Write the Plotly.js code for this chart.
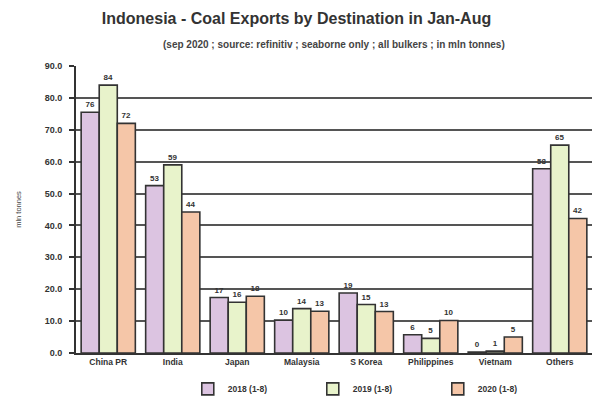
<!DOCTYPE html>
<html><head><meta charset="utf-8">
<script src="https://cdn.plot.ly/plotly-3.0.1.min.js"></script>
<style>html,body{margin:0;padding:0;background:#fff;}</style>
</head><body>
<div id="chart" style="width:593px;height:414px;"></div>
<script>
const categories = ["China PR","India","Japan","Malaysia","S Korea","Philippines","Vietnam","Others"];
const y2018 = [75.5, 52.5, 17.4, 10.3, 18.8, 5.7, 0.3, 57.8];
const y2019 = [84.0, 59.0, 15.9, 13.9, 15.2, 4.6, 0.6, 65.2];
const y2020 = [72.0, 44.2, 17.8, 13.1, 13.0, 10.2, 5.0, 42.2];
const seriesNames = ["2018 (1-8)","2019 (1-8)","2020 (1-8)"];
const yTicks = [0,10,20,30,40,50,60,70,80,90];

const fills = ["#dcc4e1","#e8f3cb","#f5c6a8"];
const font = "Liberation Sans, Arial, sans-serif";

const traces = [y2018, y2019, y2020].map((vals, i) => ({
  type: "bar",
  name: seriesNames[i],
  x: categories,
  y: vals,
  marker: {color: fills[i], line: {color: "#333", width: 1.6}},
  texttemplate: "%{y:.0f}",
  textposition: "outside",
  cliponaxis: false,
  textfont: {family: font, size: 8, color: "#333", weight: "bold"},
  hoverinfo: "skip"
}));

const layout = {
  width: 593, height: 414,
  margin: {l: 76, r: 1, t: 66, b: 61},
  paper_bgcolor: "#fff", plot_bgcolor: "#fff",
  barmode: "group",
  bargap: 0.16, bargroupgap: 0,
  font: {family: font, color: "#333"},
  title: {
    text: "<b>Indonesia - Coal Exports by Destination in Jan-Aug</b>",
    font: {family: font, size: 16, color: "#333"},
    x: 0.5, xanchor: "center", y: 0.955, yanchor: "middle"
  },
  annotations: [{
    text: "<b>(sep 2020 ; source: refinitiv ; seaborne only ; all bulkers ; in mln tonnes)</b>",
    xref: "paper", yref: "paper", x: 0.5, y: 1.0, yshift: 22,
    xanchor: "center", yanchor: "middle", showarrow: false,
    font: {family: font, size: 10, color: "#444"}
  }],
  xaxis: {
    type: "category",
    showline: true, linecolor: "#333", linewidth: 2,
    ticks: "", tickfont: {family: font, size: 8.5, color: "#333", weight: "bold"},
    showgrid: false, fixedrange: true
  },
  yaxis: {
    range: [0, 90], tickvals: yTicks, tickformat: ".1f",
    showline: true, linecolor: "#333", linewidth: 2,
    ticks: "outside", ticklen: 5, tickcolor: "#333", tickwidth: 2,
    ticklabelstandoff: 5,
    showgrid: true, gridcolor: "#555", gridwidth: 2,
    zeroline: false,
    tickfont: {family: font, size: 9, color: "#333", weight: "bold"},
    title: {text: "mln tonnes", font: {family: font, size: 7.5, color: "#444"}, standoff: 22},
    fixedrange: true
  },
  legend: {
    orientation: "h", x: 0.58, xanchor: "center", y: -0.125, yanchor: "middle",
    font: {family: font, size: 8.5, color: "#333", weight: "bold"},
    itemwidth: 30, entrywidth: 80, entrywidthmode: "pixels", tracegroupgap: 0
  },
  showlegend: true
};

Plotly.newPlot("chart", traces, layout, {displayModeBar: false, staticPlot: true});
</script>
</body></html>
